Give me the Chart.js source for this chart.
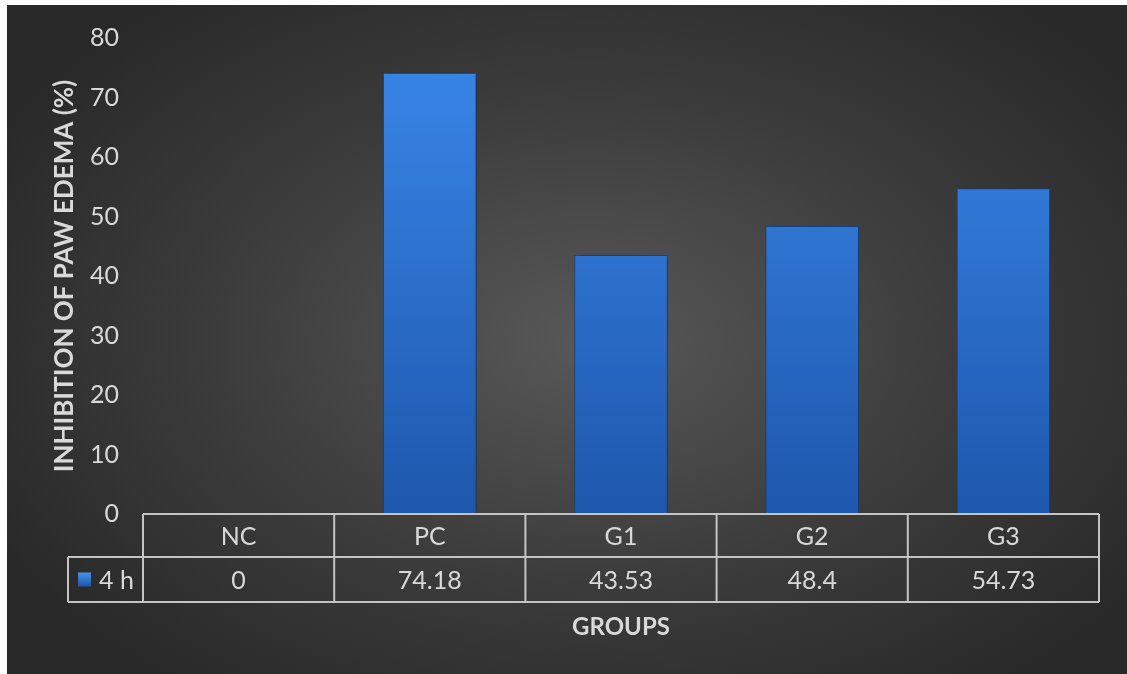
<!DOCTYPE html>
<html>
<head>
<meta charset="utf-8">
<script src="https://cdn.jsdelivr.net/npm/chart.js@4"></script>
<style>
  html, body { margin: 0; padding: 0; background: #fff; }
  #wrap {
    position: absolute; left: 7px; top: 5px; width: 1120px; height: 669px;
    background: radial-gradient(ellipse 60% 65% at 52% 50%, #585858 0%, #3c3c3c 55%, #292929 100%);
  }
</style>
</head>
<body>
<div id="wrap"><canvas id="chart" width="1120" height="669"></canvas></div>
<script>
const groups = ['NC', 'PC', 'G1', 'G2', 'G3'];
const inhibition4h = [0, 74.18, 43.53, 48.4, 54.73];
const tableValues = ['0', '74.18', '43.53', '48.4', '54.73'];
const seriesName = '4 h';

const textColor = '#d9d9d9';
const lineColor = '#c4c4c4';
const fontFamily = 'Lato, "Open Sans", sans-serif';

// draws the data table below the plot plus the x axis title
const dataTable = {
  id: 'dataTable',
  afterDraw(chart) {
    const ctx = chart.ctx;
    const x = chart.scales.x;
    const area = chart.chartArea;
    const step = x.getPixelForValue(1) - x.getPixelForValue(0);
    const top = area.bottom;
    const mid = top + 43;
    const bottom = mid + 45;
    const legendLeft = 61;

    ctx.save();
    ctx.strokeStyle = lineColor;
    ctx.lineWidth = 2;
    ctx.beginPath();
    ctx.moveTo(area.left, top);
    ctx.lineTo(area.right, top);
    ctx.moveTo(legendLeft, mid);
    ctx.lineTo(area.right, mid);
    ctx.moveTo(legendLeft, bottom);
    ctx.lineTo(area.right, bottom);
    ctx.moveTo(legendLeft, mid);
    ctx.lineTo(legendLeft, bottom);
    for (let i = 0; i <= groups.length; i++) {
      const px = x.getPixelForValue(i) - step / 2;
      ctx.moveTo(px, top);
      ctx.lineTo(px, bottom);
    }
    ctx.stroke();

    ctx.fillStyle = textColor;
    ctx.font = '25px ' + fontFamily;
    ctx.textAlign = 'center';
    ctx.textBaseline = 'middle';
    groups.forEach((g, i) => {
      const px = x.getPixelForValue(i);
      ctx.fillText(g, px, (top + mid) / 2 + 1);
      ctx.fillText(tableValues[i], px, (mid + bottom) / 2 + 1);
    });

    // legend key
    const grad = ctx.createLinearGradient(0, mid + 15, 0, mid + 29);
    grad.addColorStop(0, '#4a94ee');
    grad.addColorStop(1, '#1e58ad');
    ctx.fillStyle = grad;
    ctx.fillRect(71, (mid + bottom) / 2 - 7, 13, 14);
    ctx.fillStyle = textColor;
    ctx.textAlign = 'left';
    ctx.fillText(seriesName, 92, (mid + bottom) / 2 + 1);

    ctx.font = 'bold 24px ' + fontFamily;
    ctx.textAlign = 'center';
    ctx.fillText('GROUPS', (area.left + area.right) / 2, bottom + 25);
    ctx.restore();
  }
};

const barShadow = {
  id: 'barShadow',
  beforeDatasetsDraw(chart) {
    const ctx = chart.ctx;
    ctx.save();
    ctx.shadowColor = 'rgba(0,0,0,0.45)';
    ctx.shadowBlur = 6;
    ctx.shadowOffsetX = 1;
  },
  afterDatasetsDraw(chart) {
    chart.ctx.restore();
  }
};

new Chart(document.getElementById('chart'), {
  type: 'bar',
  data: {
    labels: groups,
    datasets: [{
      label: seriesName,
      data: inhibition4h,
      backgroundColor: (c) => {
        const area = c.chart.chartArea;
        if (!area) return '#2f74d0';
        const g = c.chart.ctx.createLinearGradient(0, area.top, 0, area.bottom);
        g.addColorStop(0, '#3a88ea');
        g.addColorStop(1, '#1e57ad');
        return g;
      },
      borderColor: '#1b4f98',
      borderWidth: 1,
      barPercentage: 0.49,
      categoryPercentage: 1
    }]
  },
  options: {
    responsive: false,
    animation: false,
    devicePixelRatio: 1,
    layout: { padding: { left: 0, top: 33, right: 28, bottom: 160 } },
    plugins: {
      legend: { display: false },
      tooltip: { enabled: false }
    },
    scales: {
      x: { display: false },
      y: {
        min: 0,
        max: 80,
        border: { display: false },
        grid: { display: false, drawTicks: false },
        ticks: {
          stepSize: 10,
          color: textColor,
          padding: 24,
          font: { family: fontFamily, size: 25 }
        },
        title: {
          display: true,
          text: 'INHIBITION OF PAW EDEMA (%)',
          color: textColor,
          padding: { top: 42, bottom: 0 },
          font: { family: fontFamily, size: 26, weight: 'bold' }
        },
        afterFit: (scale) => {
          scale.width = 136;
          scale.paddingTop = 0;
          scale.paddingBottom = 0;
        }
      }
    }
  },
  plugins: [barShadow, dataTable]
});
</script>
</body>
</html>
